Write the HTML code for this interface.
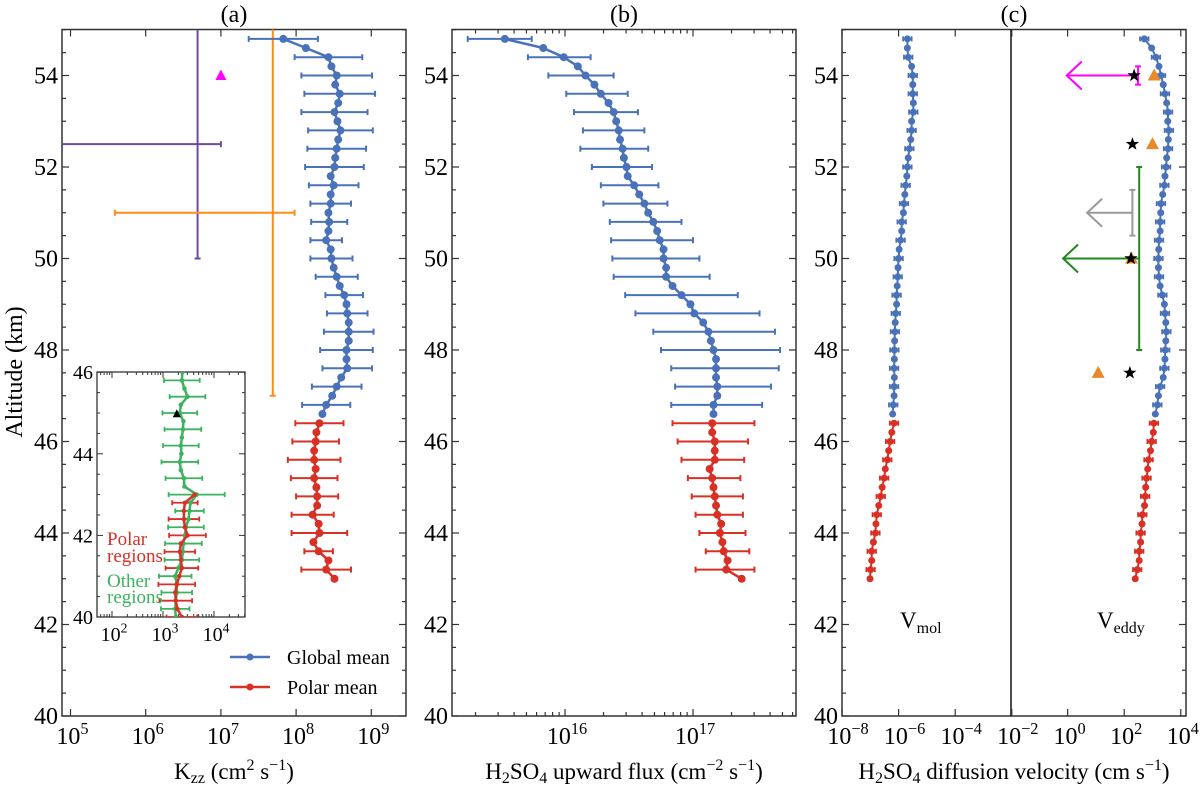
<!DOCTYPE html>
<html><head><meta charset="utf-8"><title>H2SO4 profiles</title>
<style>
html,body{margin:0;padding:0;background:#fff;}
svg{display:block;font-family:"Liberation Serif","DejaVu Serif",serif;}
</style></head>
<body>
<svg id="fig" width="1200" height="787" viewBox="0 0 1200 787" xmlns="http://www.w3.org/2000/svg">
  <rect x="0" y="0" width="1200" height="787" fill="#fff"/>
  <text x="234" y="22" font-size="24" text-anchor="middle">(a)</text>
  <text x="624" y="22" font-size="24" text-anchor="middle">(b)</text>
  <text x="1014" y="22" font-size="24" text-anchor="middle">(c)</text>
  <text transform="translate(22,372) rotate(-90)" font-size="24" text-anchor="middle">Altitude (km)</text>
  <text x="234" y="779" font-size="23" text-anchor="middle">K<tspan font-size="16" dy="4">zz</tspan><tspan dy="-4"> (cm</tspan><tspan font-size="16" dy="-9">2</tspan><tspan dy="9"> s</tspan><tspan font-size="16" dy="-9">−1</tspan><tspan dy="9">)</tspan></text>
  <text x="624" y="779" font-size="23" text-anchor="middle">H<tspan font-size="16" dy="4">2</tspan><tspan dy="-4">SO</tspan><tspan font-size="16" dy="4">4</tspan><tspan dy="-4"> upward flux (cm</tspan><tspan font-size="16" dy="-9">−2</tspan><tspan dy="9"> s</tspan><tspan font-size="16" dy="-9">−1</tspan><tspan dy="9">)</tspan></text>
  <text x="1014" y="779" font-size="23" text-anchor="middle">H<tspan font-size="16" dy="4">2</tspan><tspan dy="-4">SO</tspan><tspan font-size="16" dy="4">4</tspan><tspan dy="-4"> diffusion velocity (cm s</tspan><tspan font-size="16" dy="-9">−1</tspan><tspan dy="9">)</tspan></text>
  <text x="900" y="628" font-size="23">V<tspan font-size="16" dy="5">mol</tspan></text>
  <text x="1097" y="628" font-size="23">V<tspan font-size="16" dy="5">eddy</tspan></text>
  <g>
    <line x1="230" y1="657" x2="270" y2="657" stroke="#4a72b8" stroke-width="2.5"/>
    <circle cx="250" cy="657" r="3.5" fill="#4a72b8"/>
    <text x="287" y="664" font-size="20">Global mean</text>
    <line x1="230" y1="687" x2="270" y2="687" stroke="#d93025" stroke-width="2.5"/>
    <circle cx="250" cy="687" r="3.5" fill="#d93025"/>
    <text x="287" y="694" font-size="20">Polar mean</text>
  </g>
  <g id="plot"></g>
</svg>
<script>
// ---------- data ----------
const yTicks = [40, 42, 44, 46, 48, 50, 52, 54];
const aTickExp = [5, 6, 7, 8, 9];
const bTickExp = [16, 17];
const cLeftTickExp = [-8, -6, -4, -2];
const cRightTickExp = [0, 2, 4];
const insetTickExp = [2, 3, 4];
const insetYTicks = [40, 42, 44, 46];

const globalAlt = [54.8,54.6,54.4,54.2,54.0,53.8,53.6,53.4,53.2,53.0,52.8,52.6,52.4,52.2,52.0,51.8,51.6,51.4,51.2,51.0,50.8,50.6,50.4,50.2,50.0,49.8,49.6,49.4,49.2,49.0,48.8,48.6,48.4,48.2,48.0,47.8,47.6,47.4,47.2,47.0,46.8,46.6];
const polarAlt = [46.4,46.2,46.0,45.8,45.6,45.4,45.2,45.0,44.8,44.6,44.4,44.2,44.0,43.8,43.6,43.4,43.2,43.0];

// (a) log10 Kzz
const kzzGlobal = [7.83,8.13,8.43,8.47,8.54,8.52,8.58,8.56,8.51,8.55,8.59,8.56,8.54,8.52,8.51,8.46,8.50,8.46,8.46,8.43,8.44,8.43,8.40,8.46,8.47,8.50,8.54,8.58,8.64,8.67,8.68,8.70,8.70,8.70,8.67,8.67,8.68,8.60,8.54,8.48,8.40,8.35];
const kzzGlobalErr = [0.46,0.45,0.47,0.47,0.44,0.43,0.39,0.39,0.33,0.27,0.24,0.21,0.28,0.28,0.25,0.27,0.33,0.35,0.33,0.33,0.32];
const kzzPolar = [8.31,8.27,8.26,8.24,8.24,8.26,8.24,8.27,8.28,8.28,8.22,8.30,8.31,8.23,8.30,8.43,8.40,8.51];
const kzzPolarErr = [0.32,0.31,0.35,0.31,0.28,0.28,0.37,0.19,0.33];
const purpleLog = 6.69, purpleAltTop = 55, purpleAltBottom = 50, purpleHAlt = 52.5, purpleHLeft = 4.5, purpleHRight = 7.0;
const orangeLog = 7.69, orangeAltBottom = 47.0, orangeHAlt = 51.0, orangeHLeft = 5.59, orangeHRight = 7.98;
const magentaTriLog = 7.0, magentaTriAlt = 54.0;

// inset
const insetGreenAlt = [46.0,45.8,45.6,45.4,45.2,45.0,44.8,44.6,44.4,44.2,44.0,43.8,43.6,43.4,43.2,43.0,42.8,42.6,42.4,42.2,42.0,41.8,41.6,41.4,41.2,41.0,40.8,40.6,40.4,40.2,40.0];
const insetGreen = [3.38,3.37,3.42,3.48,3.35,3.33,3.40,3.39,3.37,3.35,3.36,3.33,3.35,3.41,3.42,3.66,3.54,3.52,3.50,3.45,3.43,3.40,3.39,3.37,3.30,3.24,3.27,3.27,3.25,3.24,3.25];
const insetGreenErr = [0.35,0.35,0.34,0.36,0.35,0.36,0.36,0.55,0.28,0.35,0.36,0.34,0.32,0.30,0.28];
const insetRedAlt = [43.0,42.8,42.6,42.4,42.2,42.0,41.8,41.6,41.4,41.2,41.0,40.8,40.6,40.4,40.2,40.0];
const insetRed = [3.62,3.43,3.41,3.41,3.43,3.48,3.35,3.33,3.35,3.37,3.32,3.27,3.24,3.25,3.28,3.37];
const insetRedErr = [0.25,0.30,0.36,0.30,0.32,0.36,0.32,0.30];
const insetTriLog = 3.27, insetTriAlt = 44.97;

// (b) log10 flux
const fluxGlobal = [15.53,15.83,15.99,16.10,16.16,16.23,16.28,16.34,16.38,16.40,16.42,16.43,16.45,16.46,16.48,16.49,16.54,16.58,16.62,16.65,16.69,16.72,16.74,16.77,16.77,16.79,16.79,16.84,16.91,16.98,17.01,17.08,17.12,17.14,17.16,17.18,17.18,17.18,17.19,17.19,17.16,17.16];
const fluxGlobalLo = [15.24,15.71,15.87,16.01,16.07,16.14,16.12,16.21,16.28,16.30,16.35,16.36,16.37,16.38,16.47,16.55,16.69,16.75,16.83,16.86,16.83];
const fluxGlobalHi = [15.74,16.20,16.38,16.49,16.57,16.62,16.65,16.68,16.73,16.80,16.91,17.00,17.05,17.13,17.35,17.52,17.64,17.68,17.67,17.61,17.54];
const fluxPolar = [17.15,17.15,17.17,17.17,17.17,17.13,17.15,17.16,17.17,17.18,17.19,17.22,17.21,17.23,17.24,17.27,17.26,17.38];
const fluxPolarLo = [16.84,16.88,16.91,16.96,16.99,17.02,17.05,17.10,17.02];
const fluxPolarHi = [17.48,17.43,17.40,17.37,17.39,17.39,17.41,17.44,17.48];

// (c) log10 velocities
const vmolGlobal = [-5.69,-5.69,-5.66,-5.54,-5.50,-5.50,-5.50,-5.48,-5.48,-5.54,-5.54,-5.57,-5.62,-5.66,-5.69,-5.71,-5.75,-5.78,-5.81,-5.83,-5.89,-5.89,-5.93,-5.98,-6.00,-6.02,-6.03,-6.05,-6.07,-6.07,-6.10,-6.12,-6.13,-6.14,-6.15,-6.15,-6.16,-6.15,-6.16,-6.16,-6.19,-6.21];
const vmolPolar = [-6.16,-6.24,-6.30,-6.35,-6.40,-6.47,-6.51,-6.58,-6.63,-6.70,-6.77,-6.80,-6.82,-6.89,-6.95,-6.95,-6.99,-7.01];
const veddyGlobal = [2.71,2.97,3.12,3.23,3.30,3.38,3.44,3.50,3.55,3.54,3.58,3.56,3.55,3.50,3.48,3.44,3.42,3.36,3.30,3.29,3.27,3.27,3.23,3.22,3.21,3.21,3.23,3.27,3.35,3.42,3.44,3.47,3.49,3.47,3.45,3.44,3.42,3.38,3.27,3.21,3.17,3.10];
const veddyPolar = [3.05,3.03,2.97,2.93,2.86,2.83,2.79,2.76,2.74,2.72,2.64,2.63,2.58,2.58,2.53,2.53,2.46,2.39];
const vErr = 0.15;
const starAlt = [54.0, 52.5, 50.0, 47.5];
const starLog = [2.35, 2.29, 2.24, 2.20];
const triAlt = [54.0, 52.5, 50.0, 47.5];
const triLog = [3.06, 3.00, 2.26, 1.08];
const magentaLimLog = 2.49, magentaLimAlt = 54.0, magentaArrowTo = -0.03;
const grayLimLog = 2.29, grayLimAlt = 51.0, grayTop = 51.5, grayBottom = 50.5, grayArrowTo = 0.69;
const greenLimLog = 2.53, greenLimAlt = 50.0, greenTop = 52.0, greenBottom = 48.0, greenArrowTo = -0.16;

// ---------- scales ----------
const Y = a => 716 - (a - 40) * 45.75;
const XA = l => 70.5 + (l - 5) * 75.2;
const XB = l => 565 + (l - 16) * 128;
const XCL = l => 842 + (l + 8) * 28.3;
const XCR = l => 1011 + (l + 2) * 28.3;
const XI = l => 112 + (l - 2) * 51;
const YI = a => 617 - (a - 40) * 40.8;

const NS = 'http://www.w3.org/2000/svg';
const root = document.getElementById('plot');
const BLUE = '#4a72b8', RED = '#d93025', GREEN = '#3cb35f';

function mk(tag, parent, attrs, name) {
  const el = document.createElementNS(NS, tag);
  for (const k in attrs) el.setAttribute(k, attrs[k]);
  
  
  parent.appendChild(el);
  return el;
}
function ln(p, x1, y1, x2, y2, c, w, name) {
  return mk('line', p, {x1, y1, x2, y2, stroke: c, 'stroke-width': w}, name);
}
function group(name) {
  const g = document.createElementNS(NS, 'g');
  
  
  root.appendChild(g);
  return g;
}
function powLabel(p, x, y, base, exp, fs, name) {
  const t = mk('text', p, {x: x, y: y, 'font-size': fs, 'text-anchor': 'middle'}, name);
  const t1 = document.createElementNS(NS, 'tspan'); t1.textContent = base; t.appendChild(t1);
  const t2 = document.createElementNS(NS, 'tspan');
  t2.setAttribute('dy', -fs * 0.42); t2.setAttribute('font-size', fs * 0.68);
  t2.textContent = exp; t.appendChild(t2);
  return t;
}

function frame(x0, x1, name) {
  const g = group(name);
  mk('rect', g, {x: x0, y: 29.5, width: x1 - x0, height: 716 - 29.5, fill: 'none', stroke: '#333', 'stroke-width': 1.5}, name + '-frame');
  for (let a = 40; a <= 55; a += 0.5) {
    const major = Math.abs(a % 2) < 1e-6;
    const L = major ? 7 : 4;
    ln(g, x0, Y(a), x0 + L, Y(a), '#333', 1.2, 'y-tick');
    ln(g, x1, Y(a), x1 - L, Y(a), '#333', 1.2, 'y-tick');
  }
  yTicks.forEach(v => {
    const t = mk('text', g, {x: x0 - 4, y: Y(v) + 8, 'font-size': 24, 'text-anchor': 'end'}, 'y-tick-label');
    t.textContent = v;
  });
  return g;
}
const ga = frame(62, 406, 'panel-a');
const gb = frame(452, 796, 'panel-b');
const gc = frame(842, 1186, 'panel-c');
ln(gc, 1011, 29.5, 1011, 716, '#111', 1.5, 'panel-c-divider');

aTickExp.forEach(e => {
  const x = XA(e);
  ln(ga, x, 716, x, 709, '#333', 1.2, 'x-tick');
  ln(ga, x, 29.5, x, 36.5, '#333', 1.2, 'x-tick');
  powLabel(ga, x + 2, 744, '10', e, 24, 'x-tick-label');
});
for (let d = 15; d <= 17; d++) {
  for (let m = 1; m <= 9; m++) {
    const l = d + Math.log10(m);
    const x = XB(l);
    if (x < 452 || x > 796) continue;
    const L = m === 1 ? 7 : 4;
    ln(gb, x, 716, x, 716 - L, '#333', 1.2, 'x-tick');
    ln(gb, x, 29.5, x, 29.5 + L, '#333', 1.2, 'x-tick');
  }
}
bTickExp.forEach(e => powLabel(gb, XB(e) + 2, 744, '10', e, 24, 'x-tick-label'));
cLeftTickExp.forEach(e => {
  const x = XCL(e);
  ln(gc, x, 716, x, 709, '#333', 1.2, 'x-tick');
  ln(gc, x, 29.5, x, 36.5, '#333', 1.2, 'x-tick');
  powLabel(gc, x + 6, 744, '10', '−' + (-e), 24, 'x-tick-label');
});
cRightTickExp.forEach(e => {
  const x = XCR(e);
  ln(gc, x, 716, x, 709, '#333', 1.2, 'x-tick');
  ln(gc, x, 29.5, x, 36.5, '#333', 1.2, 'x-tick');
  powLabel(gc, x + 2, 744, '10', e, 24, 'x-tick-label');
});

function series(p, alts, vals, X, yF, color, r, w, name) {
  const g = document.createElementNS(NS, 'g');
  
  
  p.appendChild(g);
  const pts = alts.map((a, i) => X(vals[i]).toFixed(1) + ',' + yF(a).toFixed(1)).join(' ');
  mk('polyline', g, {points: pts, fill: 'none', stroke: color, 'stroke-width': w, 'stroke-linejoin': 'round'}, name + '-line');
  alts.forEach((a, i) => mk('circle', g, {cx: X(vals[i]), cy: yF(a), r: r, fill: color}, name + '-point'));
  return g;
}
function ebar(p, xl, xr, y, color, cap, w, name) {
  ln(p, xl, y, xr, y, color, w, name);
  ln(p, xl, y - cap, xl, y + cap, color, w, name + '-cap');
  ln(p, xr, y - cap, xr, y + cap, color, w, name + '-cap');
}

// ---- panel a ----
const gaData = group('panel-a-data');
ln(gaData, XA(purpleLog), Y(purpleAltTop), XA(purpleLog), Y(purpleAltBottom), '#6b4aa3', 2, 'purple-kzz-range');
ln(gaData, XA(purpleLog) - 3, Y(purpleAltBottom), XA(purpleLog) + 3, Y(purpleAltBottom), '#6b4aa3', 2, 'purple-cap');
ln(gaData, Math.max(62, XA(purpleHLeft)), Y(purpleHAlt), XA(purpleHRight), Y(purpleHAlt), '#6b4aa3', 2, 'purple-kzz-hbar');
ln(gaData, XA(purpleHRight), Y(purpleHAlt) - 3, XA(purpleHRight), Y(purpleHAlt) + 3, '#6b4aa3', 2, 'purple-cap');
ln(gaData, XA(orangeLog), 29.5, XA(orangeLog), Y(orangeAltBottom), '#ff8c1a', 2, 'orange-kzz-range');
ln(gaData, XA(orangeLog) - 3, Y(orangeAltBottom), XA(orangeLog) + 3, Y(orangeAltBottom), '#ff8c1a', 2, 'orange-cap');
ebar(gaData, XA(orangeHLeft), XA(orangeHRight), Y(orangeHAlt), '#ff8c1a', 3, 2, 'orange-kzz-hbar');
{
  const x = XA(magentaTriLog), y = Y(magentaTriAlt);
  mk('polygon', gaData, {points: `${x},${y-6} ${x-5.5},${y+4.5} ${x+5.5},${y+4.5}`, fill: '#ff00ff'}, 'magenta-triangle');
}
globalAlt.forEach((a, i) => {
  if (i % 2 === 0) {
    const e = kzzGlobalErr[i / 2];
    ebar(gaData, XA(kzzGlobal[i] - e), XA(kzzGlobal[i] + e), Y(a), BLUE, 3, 2, 'kzz-global-errorbar');
  }
});
polarAlt.forEach((a, i) => {
  if (i % 2 === 0) {
    const e = kzzPolarErr[i / 2];
    ebar(gaData, XA(kzzPolar[i] - e), XA(kzzPolar[i] + e), Y(a), RED, 3, 2, 'kzz-polar-errorbar');
  }
});
series(gaData, globalAlt, kzzGlobal, XA, Y, BLUE, 4, 2.5, 'kzz-global-series');
series(gaData, polarAlt, kzzPolar, XA, Y, RED, 4, 2.5, 'kzz-polar-series');

// inset
const gi = group('inset');
mk('rect', gi, {x: 97, y: 372, width: 148, height: 245, fill: '#fff', stroke: '#333', 'stroke-width': 1.3}, 'inset-frame');
for (let a = 40; a <= 46; a += 0.5) {
  const major = Math.abs(a % 2) < 1e-6;
  const L = major ? 6 : 3;
  ln(gi, 97, YI(a), 97 + L, YI(a), '#333', 1, 'inset-y-tick');
  ln(gi, 245, YI(a), 245 - L, YI(a), '#333', 1, 'inset-y-tick');
}
insetYTicks.forEach(v => {
  const t = mk('text', gi, {x: 93, y: YI(v) + 7, 'font-size': 20, 'text-anchor': 'end'}, 'inset-y-tick-label');
  t.textContent = v;
});
for (let d = 1; d <= 4; d++) {
  for (let m = 1; m <= 9; m++) {
    const x = XI(d + Math.log10(m));
    if (x < 97 || x > 245) continue;
    const L = m === 1 ? 6 : 3;
    ln(gi, x, 617, x, 617 - L, '#333', 1, 'inset-x-tick');
    ln(gi, x, 372, x, 372 + L, '#333', 1, 'inset-x-tick');
  }
}
insetTickExp.forEach(e => powLabel(gi, XI(e) + 2, 641, '10', e, 20, 'inset-x-tick-label'));
const clip = mk('clipPath', gi, {id: 'insetClip'}, 'inset-clip');
mk('rect', clip, {x: 97, y: 372, width: 148, height: 245}, 'inset-clip-rect');
const giData = mk('g', gi, {'clip-path': 'url(#insetClip)'}, 'inset-data');
insetGreenAlt.forEach((a, i) => {
  if (i % 2 === 1) {
    const e = insetGreenErr[(i - 1) / 2];
    ebar(giData, XI(insetGreen[i] - e), XI(insetGreen[i] + e), YI(a), GREEN, 2.5, 1.8, 'inset-other-errorbar');
  }
});
insetRedAlt.forEach((a, i) => {
  if (i % 2 === 1) {
    const e = insetRedErr[(i - 1) / 2];
    ebar(giData, XI(insetRed[i] - e), XI(insetRed[i] + e), YI(a), RED, 2.5, 1.8, 'inset-polar-errorbar');
  }
});
series(giData, insetGreenAlt, insetGreen, XI, YI, GREEN, 2.3, 2.5, 'inset-other-series');
series(giData, insetRedAlt, insetRed, XI, YI, RED, 2.3, 2.5, 'inset-polar-series');
{
  const x = XI(insetTriLog), y = YI(insetTriAlt);
  mk('polygon', gi, {points: `${x},${y-5} ${x-4},${y+3} ${x+4},${y+3}`, fill: '#000'}, 'inset-black-triangle');
}
[['Polar', 107, 545, RED], ['regions', 107, 562, RED], ['Other', 107, 587, GREEN], ['regions', 107, 603, GREEN]].forEach(t => {
  const el = mk('text', gi, {x: t[1], y: t[2], 'font-size': 19, fill: t[3]}, 'inset-region-label');
  el.textContent = t[0];
});

// ---- panel b ----
const gbData = group('panel-b-data');
globalAlt.forEach((a, i) => {
  if (i % 2 === 0) ebar(gbData, XB(fluxGlobalLo[i / 2]), XB(fluxGlobalHi[i / 2]), Y(a), BLUE, 3, 2, 'flux-global-errorbar');
});
polarAlt.forEach((a, i) => {
  if (i % 2 === 0) ebar(gbData, XB(fluxPolarLo[i / 2]), XB(fluxPolarHi[i / 2]), Y(a), RED, 3, 2, 'flux-polar-errorbar');
});
series(gbData, globalAlt, fluxGlobal, XB, Y, BLUE, 4, 2.5, 'flux-global-series');
series(gbData, polarAlt, fluxPolar, XB, Y, RED, 4, 2.5, 'flux-polar-series');

// ---- panel c ----
const gcData = group('panel-c-data');
function cErr(alts, vals, X, color, name) {
  alts.forEach((a, i) => {
    if (i % 2 === 0) ebar(gcData, X(vals[i] - vErr), X(vals[i] + vErr), Y(a), color, 2.5, 1.8, name);
  });
}
cErr(globalAlt, vmolGlobal, XCL, BLUE, 'vmol-global-errorbar');
cErr(polarAlt, vmolPolar, XCL, RED, 'vmol-polar-errorbar');
cErr(globalAlt, veddyGlobal, XCR, BLUE, 'veddy-global-errorbar');
cErr(polarAlt, veddyPolar, XCR, RED, 'veddy-polar-errorbar');
series(gcData, globalAlt, vmolGlobal, XCL, Y, BLUE, 3.5, 2, 'vmol-global-series');
series(gcData, polarAlt, vmolPolar, XCL, Y, RED, 3.5, 2, 'vmol-polar-series');
series(gcData, globalAlt, veddyGlobal, XCR, Y, BLUE, 3.5, 2, 'veddy-global-series');
series(gcData, polarAlt, veddyPolar, XCR, Y, RED, 3.5, 2, 'veddy-polar-series');

function limitArrow(xv, y, xTo, top, bottom, color, name) {
  ln(gcData, xv, Y(top), xv, Y(bottom), color, 2, name + '-bar');
  ln(gcData, xv - 3, Y(top), xv + 3, Y(top), color, 2, name + '-cap');
  ln(gcData, xv - 3, Y(bottom), xv + 3, Y(bottom), color, 2, name + '-cap');
  ln(gcData, xv, y, xTo, y, color, 2, name + '-shaft');
  mk('polyline', gcData, {points: `${xTo + 15},${y - 14} ${xTo},${y} ${xTo + 15},${y + 14}`, fill: 'none', stroke: color, 'stroke-width': 2}, name + '-head');
}
limitArrow(XCR(magentaLimLog), Y(magentaLimAlt), XCR(magentaArrowTo), 54.2, 53.8, '#ff00ff', 'magenta-upper-limit');
limitArrow(XCR(grayLimLog), Y(grayLimAlt), XCR(grayArrowTo), grayTop, grayBottom, '#9a9a9a', 'gray-upper-limit');
limitArrow(XCR(greenLimLog), Y(greenLimAlt), XCR(greenArrowTo), greenTop, greenBottom, '#1e8a1e', 'green-upper-limit');
triAlt.forEach((a, i) => {
  const x = XCR(triLog[i]), y = Y(a);
  mk('polygon', gcData, {points: `${x},${y-7} ${x-6.5},${y+5} ${x+6.5},${y+5}`, fill: '#e8892a'}, 'orange-triangle');
});
function starPts(cx, cy, R, r) {
  const p = [];
  for (let k = 0; k < 10; k++) {
    const ang = -Math.PI / 2 + k * Math.PI / 5;
    const rr = k % 2 === 0 ? R : r;
    p.push((cx + rr * Math.cos(ang)).toFixed(1) + ',' + (cy + rr * Math.sin(ang)).toFixed(1));
  }
  return p.join(' ');
}
starAlt.forEach((a, i) => {
  mk('polygon', gcData, {points: starPts(XCR(starLog[i]), Y(a), 7, 2.8), fill: '#000'}, 'black-star');
});
</script>
</body></html>
